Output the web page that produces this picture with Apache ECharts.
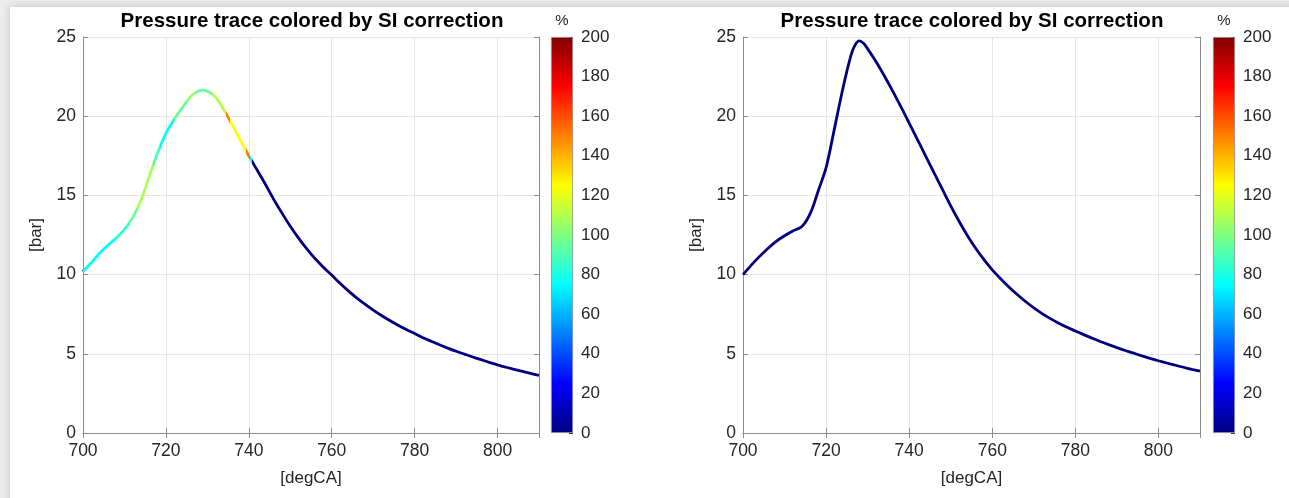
<!DOCTYPE html>
<html><head><meta charset="utf-8">
<script src="https://cdn.jsdelivr.net/npm/echarts@6/dist/echarts.min.js"></script>
<style>html,body{margin:0;padding:0;background:#ececec}#c{width:1289px;height:498px}</style>
</head><body><div id="c"></div><script>
// ---------- data ----------
const chartTitle = 'Pressure trace colored by SI correction';
const xName = '[degCA]';
const yName = '[bar]';
const cbName = '%';
const xMin = 700, xMax = 810, xStep = 20;
const yMin = 0, yMax = 25, yStep = 5;
const cbMin = 0, cbMax = 200, cbStep = 20;

// left panel: pressure trace
const leftX = [700,702,704,706,708,710,712,714,716,718,720,722,724,726,728,729,730,732,734,736,738,740,742,744,746,748,750,752,754,756,758,760,762,764,766,768,770,772,774,776,778,780,782,784,786,788,790,792,794,796,798,800,802,804,806,808,810];
const leftP = [10.2,10.75,11.35,11.85,12.3,12.85,13.6,14.7,16.2,17.7,18.9,19.8,20.55,21.25,21.6,21.65,21.58,21.2,20.4,19.45,18.45,17.5,16.6,15.7,14.75,13.88,13.05,12.3,11.62,11.0,10.47,9.97,9.45,8.97,8.53,8.13,7.76,7.42,7.1,6.8,6.53,6.28,6.02,5.79,5.57,5.36,5.16,4.98,4.8,4.63,4.46,4.3,4.15,4.02,3.89,3.76,3.64];
// left panel: SI correction [%] along the trace (segments in degCA)
const siStart = [700,708,711,713,717,718.5,722,725,727,731,734.5,735.5,739.2,740.4,740.8];
const siEnd   = [708,711,713,717,718.5,722,725,727,731,734.5,735.5,739.2,740.4,740.8,810.1];
const siValue = [75,85,95,108,90,75,95,105,95,110,150,125,150,75,0];

// right panel: pressure trace
const rightX = [700,702,704,706,708,710,712,714,715,716,717,718,720,722,724,726,727,728,729,730,732,734,736,738,740,742,744,746,748,750,752,754,756,758,760,762,764,766,768,770,772,774,776,778,780,782,784,786,788,790,792,794,796,798,800,802,804,806,808,810];
const rightP = [10.0,10.6,11.15,11.65,12.1,12.45,12.75,13.0,13.3,13.75,14.4,15.2,16.75,19.2,21.7,23.85,24.5,24.75,24.6,24.25,23.45,22.55,21.6,20.6,19.57,18.52,17.47,16.42,15.38,14.34,13.37,12.47,11.66,10.94,10.3,9.74,9.22,8.74,8.3,7.9,7.54,7.22,6.93,6.67,6.44,6.21,5.99,5.78,5.58,5.39,5.21,5.04,4.87,4.71,4.56,4.42,4.28,4.15,4.02,3.9];
const rightSI = 0;

// ---------- helpers ----------
function jet(v){
  const t = (v - cbMin) / (cbMax - cbMin);
  const c = x => Math.round(255 * Math.max(0, Math.min(1, x)));
  return 'rgb(' + c(1.5 - Math.abs(4*t - 3)) + ',' + c(1.5 - Math.abs(4*t - 2)) + ',' + c(1.5 - Math.abs(4*t - 1)) + ')';
}
const FONT = 'Liberation Sans, Arial, Helvetica, sans-serif';
const TXT = '#262626';
const BOX = '#8c8c8c';
const GRIDC = '#e6e6e6';
const TICKFS = 17.5;

const cbStops = [];
for (let i = 0; i <= 16; i++) cbStops.push({offset: i/16, color: jet(cbMin + (cbMax - cbMin) * i / 16)});

function mainX(g){
  return [{
    gridIndex: g, type: 'value', min: xMin, max: xMax, interval: xStep, position: 'bottom',
    name: xName, nameLocation: 'middle', nameGap: 37,
    nameTextStyle: {fontSize: 17, color: TXT, fontFamily: FONT},
    axisLine: {show: true, lineStyle: {color: BOX, width: 1}},
    axisTick: {show: true, inside: true, length: 5, lineStyle: {color: BOX}},
    axisLabel: {fontSize: TICKFS, color: TXT, fontFamily: FONT, margin: 9, showMaxLabel: false},
    splitLine: {show: true, lineStyle: {color: GRIDC, width: 1}}
  },{
    gridIndex: g, type: 'value', min: xMin, max: xMax, interval: xStep, position: 'top',
    axisLine: {show: true, lineStyle: {color: BOX, width: 1}},
    axisTick: {show: true, inside: true, length: 5, lineStyle: {color: BOX}},
    axisLabel: {show: false}, splitLine: {show: false}
  }];
}
function mainY(g){
  return [{
    gridIndex: g, type: 'value', min: yMin, max: yMax, interval: yStep, position: 'left',
    name: yName, nameLocation: 'middle', nameGap: 38, nameRotate: 90,
    nameTextStyle: {fontSize: 17, color: TXT, fontFamily: FONT},
    axisLine: {show: true, lineStyle: {color: BOX, width: 1}},
    axisTick: {show: true, inside: true, length: 5, lineStyle: {color: BOX}},
    axisLabel: {fontSize: TICKFS, color: TXT, fontFamily: FONT, margin: 7},
    splitLine: {show: true, lineStyle: {color: GRIDC, width: 1}}
  },{
    gridIndex: g, type: 'value', min: yMin, max: yMax, interval: yStep, position: 'right',
    axisLine: {show: true, lineStyle: {color: BOX, width: 1}},
    axisTick: {show: true, inside: true, length: 5, lineStyle: {color: BOX}},
    axisLabel: {show: false}, splitLine: {show: false}
  }];
}
function cbX(g){
  return [{gridIndex: g, type: 'category', data: [''], show: false}];
}
function cbY(g){
  return [{
    gridIndex: g, type: 'value', min: cbMin, max: cbMax, interval: cbStep, position: 'right',
    axisLine: {show: false},
    axisTick: {show: true, inside: true, length: 4, lineStyle: {color: '#333'}},
    axisLabel: {fontSize: 17, color: TXT, fontFamily: FONT, margin: 8},
    splitLine: {show: false}
  }];
}
function cbSeries(xi, yi){
  return {
    type: 'bar', xAxisIndex: xi, yAxisIndex: yi, data: [cbMax], barWidth: '100%', silent: true,
    itemStyle: {color: new echarts.graphic.LinearGradient(0, 1, 0, 0, cbStops), borderColor: '#8c8c8c', borderWidth: 0.8}
  };
}

const pieces = siStart.map((s, i) => ({gte: s, lt: siEnd[i], color: jet(siValue[i])}));

const chart = echarts.init(document.getElementById('c'), null, {renderer: 'canvas'});
chart.setOption({
  backgroundColor: '#ececec',
  animation: false,
  graphic: [
    {type: 'rect', z: -10, shape: {x: 10, y: 7, width: 1300, height: 520},
     style: {fill: '#ffffff', shadowBlur: 8, shadowColor: 'rgba(0,0,0,0.18)'}},
    {type: 'text', x: 312, y: 21, style: {text: chartTitle, font: 'bold 20.5px ' + FONT, fill: '#000', align: 'center', verticalAlign: 'middle'}},
    {type: 'text', x: 972, y: 21, style: {text: chartTitle, font: 'bold 20.5px ' + FONT, fill: '#000', align: 'center', verticalAlign: 'middle'}},
    {type: 'text', x: 562, y: 21, style: {text: cbName, font: '15px ' + FONT, fill: TXT, align: 'center', verticalAlign: 'middle'}},
    {type: 'text', x: 1224, y: 21, style: {text: cbName, font: '15px ' + FONT, fill: TXT, align: 'center', verticalAlign: 'middle'}}
  ],
  grid: [
    {left: 83, top: 37, width: 456, height: 396},
    {left: 551, top: 37, width: 22, height: 396},
    {left: 743, top: 37, width: 457, height: 396},
    {left: 1213, top: 37, width: 22, height: 396}
  ],
  xAxis: [].concat(mainX(0), cbX(1), mainX(2), cbX(3)),
  yAxis: [].concat(mainY(0), cbY(1), mainY(2), cbY(3)),
  visualMap: [{
    type: 'piecewise', show: false, seriesIndex: 0, dimension: 0, pieces: pieces, outOfRange: {color: jet(0)}
  }],
  series: [
    {type: 'line', xAxisIndex: 0, yAxisIndex: 0, data: leftX.map((x, i) => [x, leftP[i]]),
     showSymbol: false, smooth: 0.3, lineStyle: {width: 2.8}, silent: true},
    cbSeries(2, 2),
    {type: 'line', xAxisIndex: 3, yAxisIndex: 3, data: rightX.map((x, i) => [x, rightP[i]]),
     showSymbol: false, smooth: 0.3, lineStyle: {width: 2.8, color: jet(rightSI)}, itemStyle: {color: jet(rightSI)}, silent: true},
    cbSeries(5, 5)
  ]
});
</script></body></html>
